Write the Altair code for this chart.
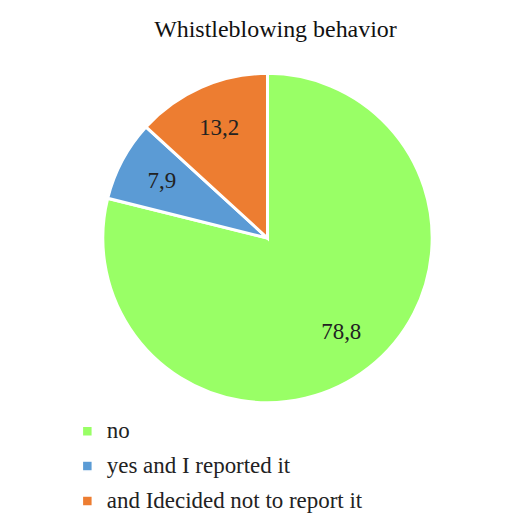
import altair as alt
import pandas as pd

categories = ["no", "yes and I reported it", "and Idecided not to report it"]
values = [78.8, 7.9, 13.2]
labels = ["78,8", "7,9", "13,2"]
colors = ["#99FF66", "#5B9BD5", "#ED7D31"]

df = pd.DataFrame({
    "category": categories,
    "value": values,
    "label": labels,
    "order": [0, 1, 2],
})

FONT = "Liberation Serif"

base = alt.Chart(df).encode(
    theta=alt.Theta("value:Q", stack=True),
    order=alt.Order("order:Q"),
)

pie = base.mark_arc(outerRadius=165, stroke="white", strokeWidth=3).encode(
    color=alt.Color(
        "category:N",
        scale=alt.Scale(domain=categories, range=colors),
        sort=categories,
        legend=alt.Legend(
            title=None,
            orient="none",
            legendX=58,
            legendY=368,
            direction="vertical",
            symbolType="square",
            symbolSize=100,
            labelFontSize=23,
            labelColor="#222222",
            rowPadding=11,
            labelOffset=8,
            labelLimit=500,
        ),
    )
)

text = base.mark_text(fontSize=23, color="#222222", radius=120).encode(
    text="label:N",
)

chart = (
    alt.layer(pie, text)
    .properties(
        width=500,
        height=372,
        padding={"left": 10, "right": 0, "top": 10, "bottom": 5},
        title=alt.TitleParams(
            "Whistleblowing  behavior",
            fontSize=24,
            fontWeight="normal",
            color="#111111",
            dx=8,
            offset=10,
        ),
    )
    .configure(font=FONT)
    .configure_title(font=FONT)
    .configure_legend(labelFont=FONT)
    .configure_text(font=FONT)
    .configure_view(stroke=None)
)

chart.save("out.html", embed_options={"renderer": "svg", "actions": False})
